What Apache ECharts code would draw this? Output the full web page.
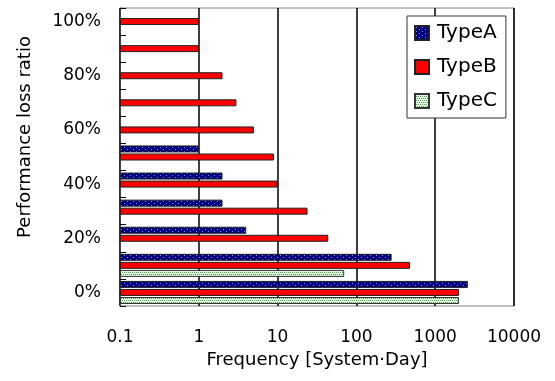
<!DOCTYPE html>
<html>
<head>
<meta charset="utf-8">
<script src="https://cdn.jsdelivr.net/npm/echarts@6/dist/echarts.min.js"></script>
<style>
  html, body { margin: 0; padding: 0; background: #fff; }
  #chart { width: 555px; height: 381px; }
</style>
</head>
<body>
<div id="chart"></div>
<script>
// performance loss ratio buckets
const categories = ["0%", "10%", "20%", "30%", "40%", "50%", "60%", "70%", "80%", "90%", "100%"];
// frequency [system-day], null = no bar
const typeA = [2600, 280, 4, 2, 2, 1, null, null, null, null, null];
const typeB = [2000, 480, 44, 24, 10, 9, 5, 3, 2, 1, 1];
const typeC = [2000, 70, null, null, null, null, null, null, null, null, null];

function makePattern(bg, fg, w, h, dots) {
  const c = document.createElement("canvas");
  c.width = w;
  c.height = h;
  const ctx = c.getContext("2d");
  ctx.fillStyle = bg;
  ctx.fillRect(0, 0, w, h);
  ctx.fillStyle = fg;
  dots.forEach((d) => ctx.fillRect(d[0], d[1], 1, 1));
  return c;
}

const patA = makePattern("#000080", "#7c8cff", 6, 4, [[1, 1], [4, 3]]);
const patC = makePattern("#e4f6e4", "#4f9f4f", 4, 4, [[0, 0], [2, 0], [1, 2], [3, 2]]);

const font = "DejaVu Sans";
const chart = echarts.init(document.getElementById("chart"));

const option = {
  animation: false,
  backgroundColor: "#fff",
  grid: {
    left: 120,
    right: 41,
    top: 8,
    bottom: 75,
    show: true,
    borderColor: "#808080",
    borderWidth: 1,
  },
  legend: {
    orient: "vertical",
    left: 407,
    top: 16,
    data: ["TypeA", "TypeB", "TypeC"],
    icon: "rect",
    itemWidth: 14,
    itemHeight: 14,
    itemGap: 14,
    padding: [7, 9, 7, 7],
    backgroundColor: "#fff",
    borderColor: "#333",
    borderWidth: 1,
    borderRadius: 0,
    textStyle: {
      fontFamily: font,
      fontSize: 20,
      color: "#000",
      padding: [0, 0, 0, 3],
    },
  },
  xAxis: {
    type: "log",
    logBase: 10,
    min: 0.1,
    max: 10000,
    startValue: 0.1,
    name: "Frequency [System·Day]",
    nameLocation: "middle",
    nameGap: 41,
    nameTextStyle: { fontFamily: font, fontSize: 18, color: "#000" },
    axisLine: { lineStyle: { color: "#555", width: 1 } },
    axisTick: { show: false },
    minorTick: { show: false },
    axisLabel: {
      fontFamily: font,
      fontSize: 17,
      color: "#000",
      margin: 23,
      formatter: (v) => String(+v.toPrecision(6)),
    },
    splitLine: { show: true, lineStyle: { color: "#000", width: 1.5 } },
  },
  yAxis: {
    type: "category",
    data: categories,
    name: "Performance loss ratio",
    nameLocation: "middle",
    nameGap: 86,
    nameTextStyle: {
      fontFamily: font,
      fontSize: 18,
      color: "#000",
      padding: [0, 0, 0, 40],
    },
    axisLine: { lineStyle: { color: "#444", width: 1 } },
    axisTick: { show: true, inside: true, length: 6, interval: 0, lineStyle: { color: "#000" } },
    axisLabel: { fontFamily: font, fontSize: 17, color: "#000", margin: 19, interval: 1 },
    splitLine: { show: false },
  },
  series: [
    {
      name: "TypeA",
      type: "bar",
      data: typeA,
      barWidth: 7,
      barGap: "15%",
      itemStyle: { color: { image: patA, repeat: "repeat" }, borderColor: "#222", borderWidth: 1 },
    },
    {
      name: "TypeB",
      type: "bar",
      data: typeB,
      barWidth: 7,
      barGap: "15%",
      itemStyle: { color: "#ff0000", borderColor: "#222", borderWidth: 1 },
    },
    {
      name: "TypeC",
      type: "bar",
      data: typeC,
      barWidth: 7,
      barGap: "15%",
      itemStyle: { color: { image: patC, repeat: "repeat" }, borderColor: "#333", borderWidth: 1 },
    },
  ],
};

chart.setOption(option);
</script>
</body>
</html>
